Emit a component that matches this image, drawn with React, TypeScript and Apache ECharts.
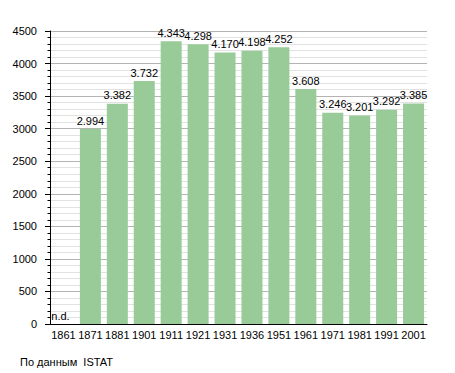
import React, { useEffect, useRef } from "react";
import * as echarts from "echarts";

const years = ["1861", "1871", "1881", "1901", "1911", "1921", "1931", "1936", "1951", "1961", "1971", "1981", "1991", "2001"];
const population = [0, 2994, 3382, 3732, 4343, 4298, 4170, 4198, 4252, 3608, 3246, 3201, 3292, 3385];
const noData = [true, false, false, false, false, false, false, false, false, false, false, false, false, false];
const yTicks = { min: 0, max: 4500, interval: 500 };
const footer = "По данным  ISTAT";

function fmt(v: number): string {
  return String(v).replace(/\B(?=(\d{3})+(?!\d))/g, ".");
}

export default function App() {
  const ref = useRef<HTMLDivElement>(null);
  useEffect(() => {
    if (!ref.current) return;
    const chart = echarts.init(ref.current, undefined, { renderer: "svg" });
    const font = "'Liberation Sans', Arial, sans-serif";
    chart.setOption({
      animation: false,
      textStyle: { fontFamily: font },
      grid: { left: 50, right: 28, top: 31, bottom: 49 },
      graphic: [
        {
          type: "text",
          left: 20,
          top: 356,
          style: { text: footer, fontSize: 11, fill: "#000", fontFamily: font },
        },
      ],
      xAxis: {
        type: "category",
        data: years,
        axisLine: { show: true, lineStyle: { color: "#000", width: 1 } },
        axisTick: { show: false },
        axisLabel: { color: "#000", fontSize: 11, margin: 5, interval: 0, fontFamily: font },
      },
      yAxis: {
        type: "value",
        min: yTicks.min,
        max: yTicks.max,
        interval: yTicks.interval,
        axisLine: { show: true, lineStyle: { color: "#000", width: 1 } },
        axisTick: { show: true, length: 5, lineStyle: { color: "#000" } },
        minorTick: { show: true, splitNumber: 5, length: 2.5, lineStyle: { color: "#000" } },
        axisLabel: { color: "#000", fontSize: 11, margin: 13, fontFamily: font, formatter: (v: number) => String(v) },
        splitLine: { show: true, lineStyle: { color: "#b4b4b4", width: 1 } },
        minorSplitLine: { show: true, lineStyle: { color: "#e2e2e2", width: 1 } },
      },
      series: [
        {
          type: "bar",
          data: population.map((v, i) => ({
            value: v,
            label: noData[i] ? { offset: [-3, 0] } : undefined,
          })),
          barCategoryGap: "22%",
          itemStyle: { color: "#99cb99" },
          label: {
            show: true,
            position: "top",
            distance: 3,
            color: "#000",
            fontSize: 11,
            fontFamily: font,
            formatter: (p: any) => (noData[p.dataIndex] ? "n.d." : fmt(p.value)),
          },
        },
      ],
    });
    return () => chart.dispose();
  }, []);
  return <div ref={ref} style={{ width: 455, height: 373, position: "absolute", left: 0, top: 0 }} />;
}
